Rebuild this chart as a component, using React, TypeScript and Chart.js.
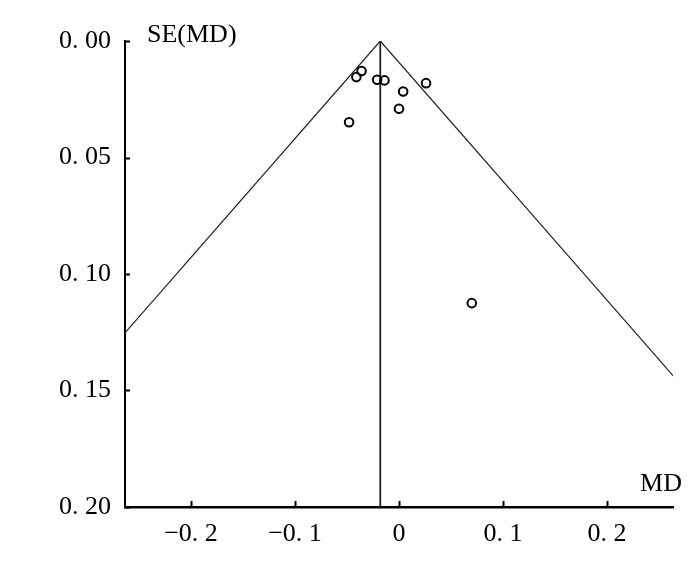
import React, { useEffect, useRef } from "react";
import { Chart, registerables } from "chart.js";

Chart.register(...registerables);

// Study estimates (mean difference) and their standard errors
const mdValues = [-0.036, -0.041, -0.021, -0.014, 0.026, 0.004, 0.0, -0.048, 0.07];
const seValues = [0.0129, 0.0155, 0.0166, 0.0169, 0.0181, 0.0217, 0.0291, 0.0349, 0.1125];
const pooledMD = -0.018;
const funnelSE = 0.2;
const xTicks = [-0.2, -0.1, 0, 0.1, 0.2];
const yTicks = [0, 0.05, 0.1, 0.15, 0.2];
const xTitle = "MD";
const yTitle = "SE(MD)";

const FONT = "'Liberation Serif', 'DejaVu Serif', serif";

const decorPlugin = {
  id: "decor",
  afterDraw(chart: any) {
    const { ctx, chartArea, scales } = chart;
    const xs = scales.x;
    const ys = scales.y;
    ctx.save();
    ctx.strokeStyle = "#000";
    ctx.lineWidth = 2;
    xs.ticks.forEach((t: any) => {
      const px = Math.round(xs.getPixelForValue(t.value)) + 0.5;
      ctx.beginPath();
      ctx.moveTo(px, chartArea.bottom + 1);
      ctx.lineTo(px, chartArea.bottom - 6);
      ctx.stroke();
    });
    ys.ticks.forEach((t: any) => {
      const py = Math.round(ys.getPixelForValue(t.value)) + 0.5;
      ctx.beginPath();
      ctx.moveTo(chartArea.left, py);
      ctx.lineTo(chartArea.left + 5, py);
      ctx.stroke();
    });
    ctx.fillStyle = "#000";
    ctx.font = `26px ${FONT}`;
    ctx.textBaseline = "alphabetic";
    ctx.textAlign = "left";
    ctx.fillText(yTitle, chartArea.left + 22, chartArea.top + 1);
    ctx.textAlign = "right";
    ctx.fillText(xTitle, chartArea.right + 9, chartArea.bottom - 16);
    ctx.restore();
  },
};

export default function App() {
  const ref = useRef<HTMLCanvasElement | null>(null);
  useEffect(() => {
    document.body.style.margin = "0";
    const canvas = ref.current;
    if (!canvas) return;
    const points = mdValues.map((x, i) => ({ x, y: seValues[i] }));
    const chart = new Chart(canvas, {
      type: "scatter",
      data: {
        datasets: [
          {
            label: "studies",
            data: points,
            pointStyle: "circle",
            pointRadius: 4.3,
            pointBorderWidth: 2,
            borderColor: "#000",
            backgroundColor: "rgba(0,0,0,0)",
          },
          {
            label: "left",
            data: [
              { x: pooledMD, y: 0 },
              { x: pooledMD - 1.96 * funnelSE, y: funnelSE },
            ],
            showLine: true,
            borderColor: "#222",
            borderWidth: 1.2,
            pointRadius: 0,
          },
          {
            label: "right",
            data: [
              { x: pooledMD, y: 0 },
              { x: pooledMD + 1.96 * funnelSE, y: funnelSE },
            ],
            showLine: true,
            borderColor: "#222",
            borderWidth: 1.2,
            pointRadius: 0,
          },
          {
            label: "pooled",
            data: [
              { x: pooledMD, y: 0 },
              { x: pooledMD, y: 0.2 },
            ],
            showLine: true,
            borderColor: "#222",
            borderWidth: 1.8,
            pointRadius: 0,
          },
        ],
      },
      options: {
        animation: false,
        responsive: false,
        layout: { padding: { top: 41, right: 27, left: 0, bottom: 0 } },
        plugins: { legend: { display: false }, tooltip: { enabled: false } },
        scales: {
          x: {
            type: "linear",
            min: -0.2635,
            max: 0.2635,
            afterFit: (s: any) => {
              s.height = 80;
            },
            afterBuildTicks: (s: any) => {
              s.ticks = xTicks.map((v) => ({ value: v }));
            },
            grid: { display: true, drawOnChartArea: false, drawTicks: false },
            border: { display: true, color: "#000", width: 2.5 },
            ticks: {
              padding: 12,
              color: "#000",
              font: { family: FONT, size: 26 },
              callback: (v: any) => {
                const n = Number(v);
                if (n === 0) return "0";
                const s = Math.abs(n).toFixed(1).replace(".", ". ");
                return n < 0 ? "\u2212" + s : s;
              },
            },
          },
          y: {
            type: "linear",
            reverse: true,
            min: 0,
            max: 0.2,
            afterFit: (s: any) => {
              s.width = 125;
            },
            afterBuildTicks: (s: any) => {
              s.ticks = yTicks.map((v) => ({ value: v }));
            },
            grid: { display: true, drawOnChartArea: false, drawTicks: false },
            border: { display: true, color: "#000", width: 2 },
            ticks: {
              padding: 14,
              color: "#000",
              font: { family: FONT, size: 26 },
              callback: (v: any) => Number(v).toFixed(2).replace(".", ". "),
            },
          },
        },
      },
      plugins: [decorPlugin],
    });
    return () => chart.destroy();
  }, []);
  return (
    <div style={{ width: 700, height: 587, background: "#fff" }}>
      <canvas ref={ref} width={700} height={587} />
    </div>
  );
}
